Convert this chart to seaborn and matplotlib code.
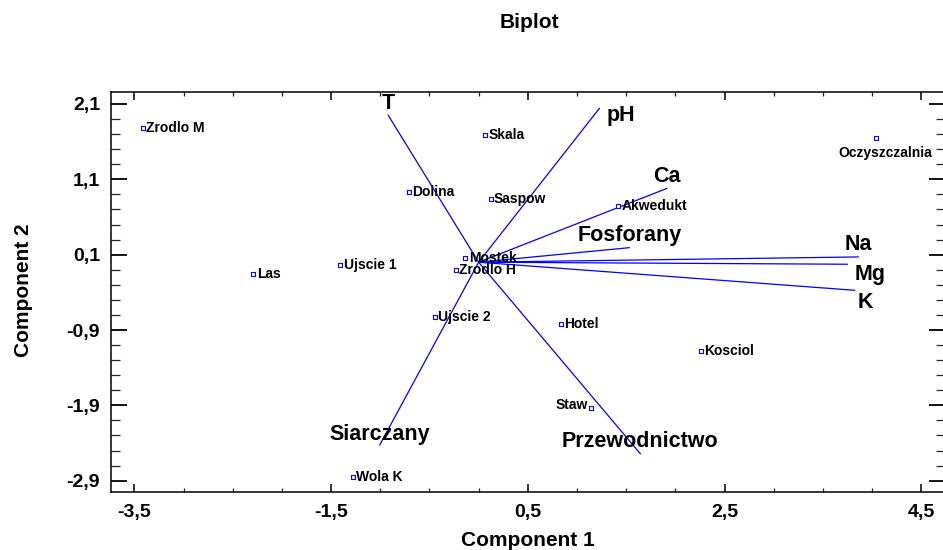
import matplotlib
matplotlib.use("Agg")
import matplotlib.pyplot as plt
import seaborn as sns
import pandas as pd
from matplotlib.ticker import FixedLocator, MultipleLocator, FuncFormatter

# Sample scores on the first two principal components
sites = ["Zrodlo M", "Las", "Skala", "Dolina", "Saspow", "Akwedukt", "Ujscie 1",
         "Mostek", "Zrodlo H", "Oczyszczalnia", "Ujscie 2", "Hotel", "Staw",
         "Wola K", "Kosciol"]
comp1 = [-3.415, -2.292, 0.067, -0.711, 0.121, 1.421, -1.405,
         -0.136, -0.231, 4.040, -0.447, 0.832, 1.144,
         -1.277, 2.260]
comp2 = [1.785, -0.160, 1.688, 0.935, 0.842, 0.750, -0.033,
         0.056, -0.099, 1.653, -0.723, -0.816, -1.940,
         -2.852, -1.179]

# Variable loadings (vector tips)
variables = ["T", "pH", "Ca", "Fosforany", "Na", "Mg", "K", "Siarczany", "Przewodnictwo"]
load1 = [-0.921, 1.228, 1.915, 1.533, 3.860, 3.749, 3.824, -1.006, 1.644]
load2 = [1.954, 2.043, 0.980, 0.193, 0.070, -0.027, -0.373, -2.427, -2.543]

x_ticks = [-3.5, -1.5, 0.5, 2.5, 4.5]
y_ticks = [-2.9, -1.9, -0.9, 0.1, 1.1, 2.1]

scores = pd.DataFrame({"site": sites, "c1": comp1, "c2": comp2})

sns.set_theme(style="white")
plt.rcParams["font.family"] = ["Liberation Sans", "DejaVu Sans"]
plt.rcParams["font.weight"] = "bold"

W, H = 943, 550
fig = plt.figure(figsize=(W / 100, H / 100), dpi=100)
left, right, top, bottom = 110.7, 945.0, 92.3, 492.0
ax = fig.add_axes([left / W, 1 - bottom / H, (right - left) / W, (bottom - top) / H])

blue = "#0000ff"

# loading vectors from the origin
for name, lx, ly in zip(variables, load1, load2):
    ax.plot([0, lx], [0, ly], color=blue, lw=0.9, zorder=2)

sns.scatterplot(data=scores, x="c1", y="c2", marker="s", s=9,
                facecolor="white", edgecolor=blue, linewidth=0.8,
                ax=ax, zorder=3, legend=False)

# point labels (offsets in points)
site_offsets = {"Staw": ((-2.2, 2.2), "right"),
                "Oczyszczalnia": ((6.5, -11.2), "center")}
for name, px, py in zip(sites, comp1, comp2):
    off, ha = site_offsets.get(name, ((2.5, 0), "left"))
    ax.annotate(name, (px, py), xytext=off, textcoords="offset points",
                ha=ha, va="center", fontsize=10, fontweight="bold",
                color="black", zorder=4)

var_offsets = {"T": (0, 8.6), "pH": (15.1, -5.0), "Ca": (0, 8.6),
               "Fosforany": (0, 8.6), "Na": (0, 8.6), "Mg": (16.6, -7.2),
               "K": (7.9, -8.6), "Siarczany": (0, 7.9), "Przewodnictwo": (0, 8.6)}
for name, lx, ly in zip(variables, load1, load2):
    ax.annotate(name, (lx, ly), xytext=var_offsets[name], textcoords="offset points",
                ha="center", va="center", fontsize=15.5, fontweight="bold",
                color="black", zorder=4)

ax.set_xlim(-3.74, 4.74)
ax.set_ylim(-3.05, 2.255)

ax.xaxis.set_major_locator(FixedLocator(x_ticks))
ax.xaxis.set_minor_locator(MultipleLocator(0.5))
ax.yaxis.set_major_locator(FixedLocator(y_ticks))
ax.yaxis.set_minor_locator(FixedLocator([v / 10 for v in range(-29, 23, 2)]))
comma = FuncFormatter(lambda v, p: f"{v:.1f}".replace(".", ","))
ax.xaxis.set_major_formatter(comma)
ax.yaxis.set_major_formatter(comma)

for s in ax.spines.values():
    s.set_color("black")
    s.set_linewidth(1.1)
    s.set_visible(True)

ax.tick_params(axis="y", which="major", direction="in", length=11.5, width=1.3,
               left=True, right=True, pad=7.7, labelsize=14, colors="black")
ax.tick_params(axis="y", which="minor", direction="in", length=6.3, width=0.9,
               left=True, right=True)
ax.tick_params(axis="x", which="major", direction="in", length=6, width=1.1,
               bottom=True, top=True, pad=9, labelsize=14, colors="black")
ax.tick_params(axis="x", which="minor", direction="in", length=3, width=0.9,
               bottom=True, top=True)
for lab in ax.get_xticklabels() + ax.get_yticklabels():
    lab.set_fontweight("bold")

ax.set_xlabel("Component 1", fontsize=15, fontweight="bold", color="black")
ax.set_ylabel("Component 2", fontsize=15, fontweight="bold", color="black")
ax.xaxis.set_label_coords(0.5, -0.1218)
ax.xaxis.label.set_va("center")
ax.yaxis.set_label_coords(-0.105, 0.505)
ax.yaxis.label.set_va("center")
ax.yaxis.label.set_ha("center")

fig.text(529 / W, 1 - 23 / H, "Biplot", ha="center", va="center",
         fontsize=15, fontweight="bold", color="black")

fig.savefig("out.png", dpi=100)
